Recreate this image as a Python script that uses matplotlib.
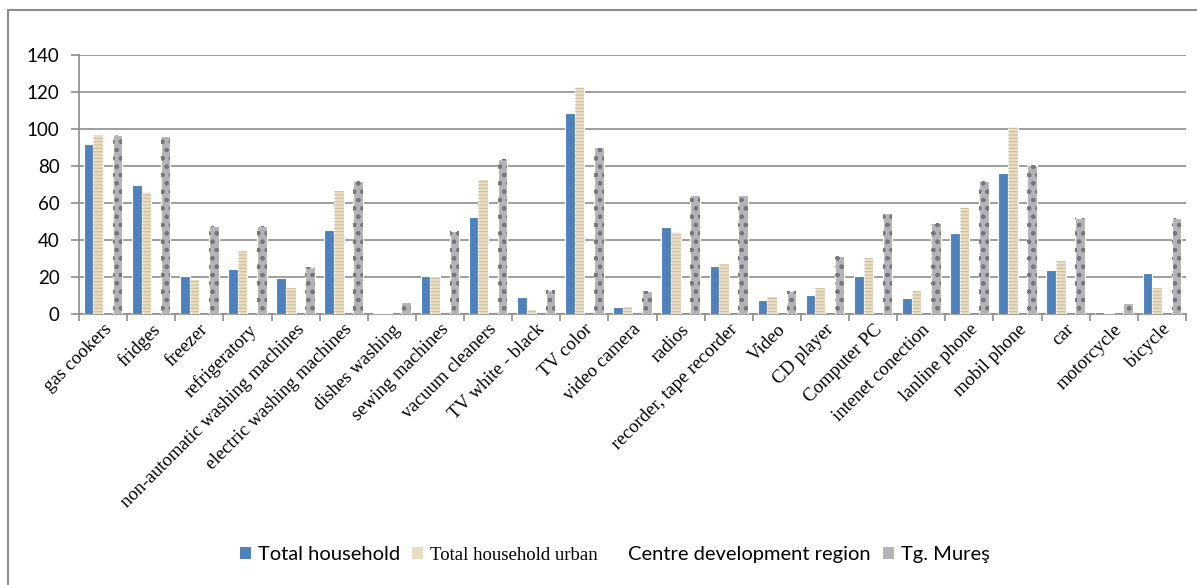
import numpy as np
import matplotlib.pyplot as plt
from matplotlib.patches import Patch, Rectangle

categories = [
    "gas cookers", "fridges", "freezer", "refrigeratory",
    "non-automatic washing machines", "electric washing machines",
    "dishes washing", "sewing machines", "vacuum cleaners",
    "TV white - black", "TV color", "video camera", "radios",
    "recorder, tape recorder", "Video", "CD player", "Computer PC",
    "intenet conection", "lanline phone", "mobil phone", "car",
    "motorcycle", "bicycle",
]
total_household = [92, 69.5, 20.5, 24.5, 19.7, 45.3, 0.3, 20.4, 52.7, 9.4,
                   108.8, 3.6, 46.9, 26, 7.6, 10.3, 20.4, 8.7, 43.6, 76.1,
                   23.8, 1.1, 22]
total_urban = [97, 66, 19.1, 34.1, 14.1, 66.6, 0.3, 20.4, 73, 2.7, 122.8,
               4.3, 44.4, 27.6, 9.6, 14.1, 30.1, 13, 57.9, 101, 28.9, 0.3,
               14.1]
tg_mures = [97, 96.2, 47.6, 47.6, 25.2, 72, 6.7, 44.9, 83.9, 13, 90.4, 12.4,
            64.4, 64.4, 12.4, 31.4, 54.7, 49.2, 72, 80.4, 52, 5.9, 52]
yticks = [0, 20, 40, 60, 80, 100, 120, 140]

GRID = "#8c8c8c"
BLUE = "#4F81BD"
BEIGE = "#E9DDC2"
GRAY = "#B4B4B8"

plt.rcParams["hatch.linewidth"] = 0.7

fig = plt.figure(figsize=(11.97, 5.85), dpi=100)
ax = fig.add_axes([0.066, 0.4632, 0.9248, 0.4428])

x = np.arange(len(categories))
w = 0.2

ax.bar(x - 1.5 * w, total_household, w, color=BLUE, edgecolor="white",
       linewidth=0.8, zorder=3)
ax.bar(x - 0.5 * w, total_urban, w, color=BEIGE, edgecolor="white",
       linewidth=0.8, zorder=3)
ax.bar(x - 0.5 * w, total_urban, w, facecolor="none", edgecolor="#cbbd9c",
       hatch="-----", linewidth=0, zorder=4)
ax.bar(x + 1.5 * w, tg_mures, w, color=GRAY, edgecolor="white",
       linewidth=0.8, zorder=3)
ax.bar(x + 1.5 * w, tg_mures, w, facecolor="none", edgecolor="#76767b",
       hatch="oo..", linewidth=0, zorder=4)

ax.set_xlim(-0.5, len(categories) - 0.5)
ax.set_ylim(0, 140)
ax.set_yticks(yticks)
ax.yaxis.grid(True, color=GRID, linewidth=1.2, zorder=1)
ax.set_axisbelow(True)

for side in ["top", "right"]:
    ax.spines[side].set_visible(False)
for side in ["left", "bottom"]:
    ax.spines[side].set_color(GRID)
    ax.spines[side].set_linewidth(1.2)

ax.tick_params(axis="y", length=6, color=GRID, width=1.2, pad=8,
               labelsize=13.5)
for lab in ax.get_yticklabels():
    lab.set_fontfamily("Lato")

# category ticks sit on the boundaries, labels at the centres
ax.set_xticks(np.arange(len(categories) + 1) - 0.5)
ax.set_xticklabels([])
ax.tick_params(axis="x", which="major", length=5, color=GRID, width=1.2)
ax.set_xticks(x, minor=True)
ax.set_xticklabels(categories, minor=True, rotation=45, ha="right",
                   va="top", rotation_mode="anchor",
                   fontfamily="Liberation Serif", fontsize=13.5)
ax.tick_params(axis="x", which="minor", length=0, pad=5)

handles = [
    Patch(facecolor=BLUE, edgecolor="none"),
    Patch(facecolor=BEIGE, edgecolor="none"),
    Patch(facecolor="none", edgecolor="none"),
    Patch(facecolor=GRAY, edgecolor="none"),
]
labels = ["Total household", "Total household urban",
          "Centre development region", "Tg. Mureş"]
leg = ax.legend(handles, labels, loc="center left", ncol=4, frameon=False,
                bbox_to_anchor=(240 / 1197, 1 - 555 / 585),
                bbox_transform=fig.transFigure, handlelength=0.55,
                handleheight=0.55, handletextpad=0.35, columnspacing=0.6,
                borderpad=0, borderaxespad=0,
                prop={"family": "Lato", "size": 14.5})
leg.get_texts()[1].set_fontfamily("Liberation Serif")
leg.get_texts()[1].set_fontsize(13.5)

# outer chart frame
fig.add_artist(Rectangle((8 / 1197, -0.1), 1.2, 1.1 - 10.5 / 585,
                         transform=fig.transFigure, facecolor="none",
                         edgecolor=GRID, linewidth=1.5))

fig.savefig("out.png", dpi=100)
